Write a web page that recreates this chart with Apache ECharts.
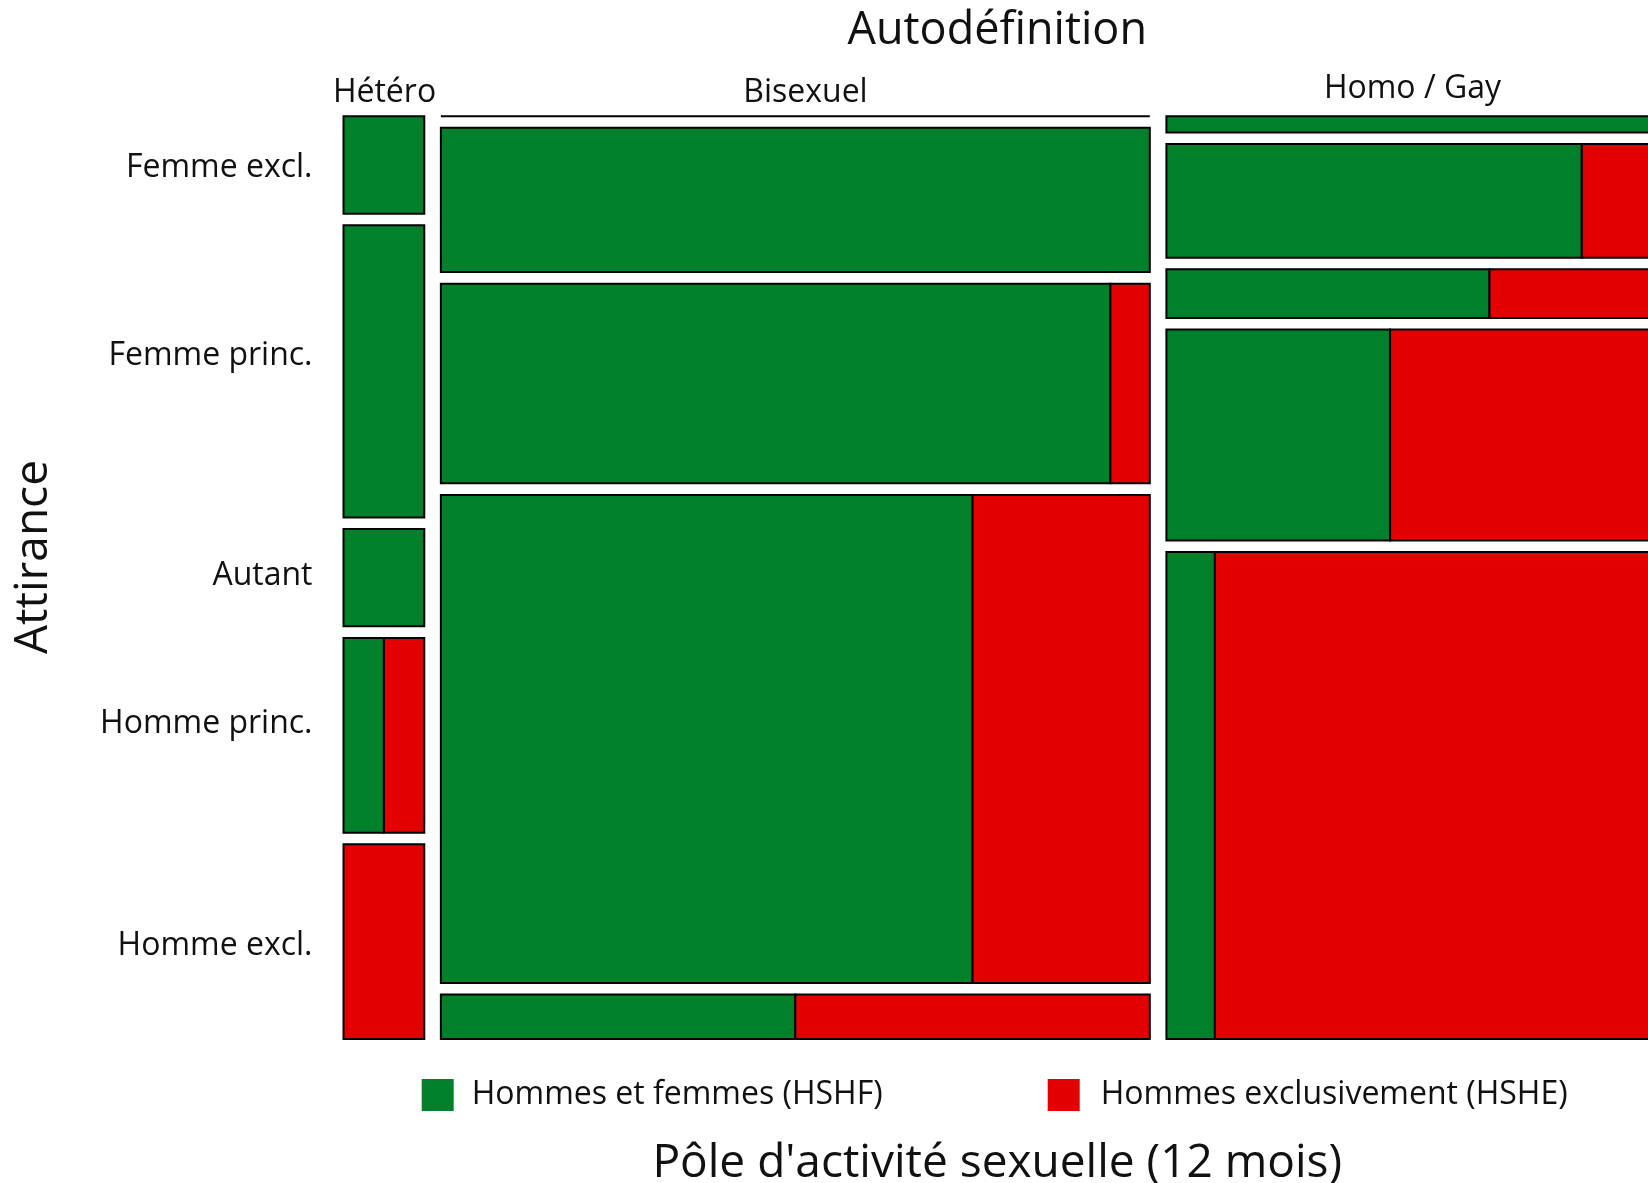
<!DOCTYPE html>
<html>
<head>
<meta charset="utf-8">
<style>
  html, body { margin: 0; padding: 0; background: #ffffff; }
  #chart { width: 1648px; height: 1183px; }
</style>
<script src="https://cdn.jsdelivr.net/npm/echarts@6/dist/echarts.min.js"></script>
</head>
<body>
<div id="chart"></div>
<script>
// ---- Data (counts read from the mosaic) ----
const columns = ['Hétéro', 'Bisexuel', 'Homo / Gay'];
const rows = ['Femme excl.', 'Femme princ.', 'Autant', 'Homme princ.', 'Homme excl.'];
const poles = ['Hommes et femmes (HSHF)', 'Hommes exclusivement (HSHE)'];

// counts per Attirance row (same order as rows), for each Autodéfinition column
const hshfHetero = [1, 3, 1, 1, 0];
const hsheHetero = [0, 0, 0, 1, 2];
const hshfBi     = [0, 13, 17, 33, 2];
const hsheBi     = [0, 0, 1, 11, 2];
const hshfHomo   = [1, 6, 2, 6, 3];
const hsheHomo   = [0, 1, 1, 7, 27];

// tick label positions: y in share of column height, x in count units
const rowTickPos = [0.0590, 0.2735, 0.5245, 0.6927, 0.9460];
const colTickPos = [4.57, 51.48, 119.12];

// ---- Mosaic layout in data units ----
const GAP_X = 1.85;     // gap between columns (in count units)
const GAP_Y = 0.01318;  // gap between rows (in proportion units)
const hshfAll = [hshfHetero, hshfBi, hshfHomo];
const hsheAll = [hsheHetero, hsheBi, hsheHomo];
const sum = a => a.reduce((s, v) => s + v, 0);

const greenRects = [];
const redRects = [];
let xCursor = 0;
for (let c = 0; c < columns.length; c++) {
  const colTotal = sum(hshfAll[c]) + sum(hsheAll[c]);
  const x0 = xCursor, x1 = xCursor + colTotal;
  let y = 0;
  for (let r = 0; r < rows.length; r++) {
    const g = hshfAll[c][r], e = hsheAll[c][r];
    const rowTotal = g + e;
    const h = rowTotal / colTotal;
    const fg = rowTotal ? g / rowTotal : 1;
    const xs = x0 + fg * colTotal;
    if (g > 0 || rowTotal === 0) greenRects.push([x0, xs, y, y + h]);
    if (e > 0) redRects.push([xs, x1, y, y + h]);
    y += h + GAP_Y;
  }
  xCursor = x1 + GAP_X;
}
const xMax = xCursor - GAP_X;
const yMax = 1 + (rows.length - 1) * GAP_Y;

const GREEN = '#00802B';
const RED = '#E20000';
const FONT = 'Open Sans';

function makeRender(color) {
  return function (params, api) {
    const p0 = api.coord([api.value(0), api.value(2)]);
    const p1 = api.coord([api.value(1), api.value(3)]);
    return {
      type: 'rect',
      shape: {
        x: Math.min(p0[0], p1[0]),
        y: Math.min(p0[1], p1[1]),
        width: Math.abs(p1[0] - p0[0]),
        height: Math.abs(p1[1] - p0[1])
      },
      style: { fill: color, stroke: '#000', lineWidth: 2 }
    };
  };
}

function nearestIndex(arr, v) {
  let best = 0, bd = Infinity;
  arr.forEach((a, i) => { const d = Math.abs(a - v); if (d < bd) { bd = d; best = i; } });
  return best;
}

const chart = echarts.init(document.getElementById('chart'), null, { renderer: 'canvas' });
chart.setOption({
  backgroundColor: '#ffffff',
  animation: false,
  textStyle: { fontFamily: FONT, color: '#111' },
  grid: {
    left: 343.5, right: -3, top: 116.3, bottom: 144,
    containLabel: false, outerBoundsMode: 'none'
  },
  xAxis: [
    {
      type: 'value', min: 0, max: xMax, position: 'bottom',
      axisLine: { show: false }, axisTick: { show: false },
      axisLabel: { show: false }, splitLine: { show: false },
      name: "Pôle d'activité sexuelle (12 mois)",
      nameLocation: 'middle', nameGap: 102,
      nameTextStyle: { fontFamily: FONT, fontSize: 46, color: '#111' }
    },
    {
      type: 'value', min: 0, max: xMax, position: 'top',
      axisLine: { show: false }, axisTick: { show: false }, splitLine: { show: false },
      axisLabel: {
        show: true, customValues: colTickPos, margin: 7,
        fontFamily: FONT, fontSize: 32, color: '#111',
        formatter: v => {
          const i = nearestIndex(colTickPos, v);
          return i === 2 ? '{up|' + columns[i] + '}' : columns[i];
        },
        rich: { up: { fontFamily: FONT, fontSize: 32, color: '#111', padding: [0, 0, 4, 0] } }
      },
      name: 'Autodéfinition',
      nameLocation: 'middle', nameGap: 63,
      nameTextStyle: { fontFamily: FONT, fontSize: 45, color: '#111' }
    }
  ],
  yAxis: {
    type: 'value', min: 0, max: yMax, inverse: true,
    axisLine: { show: false }, axisTick: { show: false }, splitLine: { show: false },
    axisLabel: {
      show: true, customValues: rowTickPos, margin: 31,
      fontFamily: FONT, fontSize: 32, color: '#111',
      formatter: v => rows[nearestIndex(rowTickPos, v)]
    }
  },
  legend: [
    {
      data: [poles[0]], left: 421.7, top: 1079, padding: 0,
      itemWidth: 32, itemHeight: 32, icon: 'rect',
      itemStyle: { borderWidth: 0 },
      textStyle: { fontFamily: FONT, fontSize: 32, color: '#111', padding: [0, 0, 0, 13] }
    },
    {
      data: [poles[1]], left: 1047.7, top: 1079, padding: 0,
      itemWidth: 32, itemHeight: 32, icon: 'rect',
      itemStyle: { borderWidth: 0 },
      textStyle: { fontFamily: FONT, fontSize: 32, color: '#111', padding: [0, 0, 0, 16] }
    }
  ],
  graphic: [
    {
      type: 'text', x: 34, y: 557, rotation: Math.PI / 2,
      style: {
        text: 'Attirance', fontFamily: FONT, fontSize: 46, fill: '#111',
        align: 'center', verticalAlign: 'middle'
      }
    }
  ],
  series: [
    {
      name: poles[0], type: 'custom', renderItem: makeRender(GREEN),
      itemStyle: { color: GREEN }, encode: { x: [0, 1], y: [2, 3] },
      data: greenRects, clip: false
    },
    {
      name: poles[1], type: 'custom', renderItem: makeRender(RED),
      itemStyle: { color: RED }, encode: { x: [0, 1], y: [2, 3] },
      data: redRects, clip: false
    }
  ]
});
</script>
</body>
</html>
